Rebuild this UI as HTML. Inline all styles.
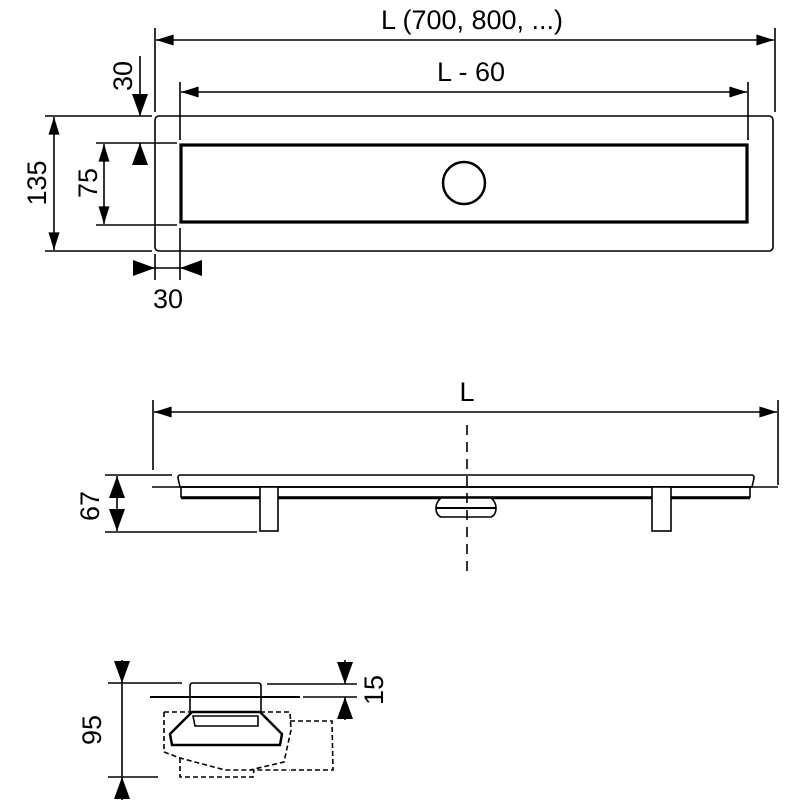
<!DOCTYPE html>
<html><head><meta charset="utf-8"><style>
html,body{margin:0;padding:0;background:#fff;width:800px;height:800px;overflow:hidden}
svg{display:block}
text{font-family:"Liberation Sans",sans-serif;font-size:27px;fill:#000}
</style></head><body>
<svg width="800" height="800" viewBox="0 0 800 800" xmlns="http://www.w3.org/2000/svg">
<defs>
<marker id="a" viewBox="0 0 16 10" refX="16" refY="5" markerWidth="18" markerHeight="11" markerUnits="userSpaceOnUse" orient="auto-start-reverse"><path d="M0,0 L16,5 L0,10 z" fill="#000"/></marker>
<marker id="b" viewBox="0 0 22 16" refX="22" refY="8" markerWidth="22" markerHeight="16" markerUnits="userSpaceOnUse" orient="auto-start-reverse"><path d="M0,0 L22,8 L0,16 z" fill="#000"/></marker>
</defs>
<g stroke="#000" stroke-width="1.6" fill="none">
<!-- top view -->
<line x1="155" y1="28" x2="155" y2="112"/>
<line x1="775" y1="28" x2="775" y2="112"/>
<line x1="180" y1="82" x2="180" y2="140"/>
<line x1="748" y1="82" x2="748" y2="140"/>
<line x1="156" y1="40" x2="774" y2="40" marker-start="url(#a)" marker-end="url(#a)"/>
<line x1="181" y1="92" x2="747" y2="92" marker-start="url(#a)" marker-end="url(#a)"/>
<rect x="155" y="116" width="618" height="135" rx="4"/>
<rect x="181" y="145" width="566" height="77" stroke-width="3.2"/>
<circle cx="464" cy="183" r="21" stroke-width="2.5"/>
<line x1="45" y1="116" x2="152" y2="116"/>
<line x1="45" y1="251" x2="152" y2="251"/>
<line x1="96" y1="143" x2="177" y2="143"/>
<line x1="96" y1="225" x2="177" y2="225"/>
<line x1="54" y1="117" x2="54" y2="250" marker-start="url(#a)" marker-end="url(#a)"/>
<line x1="104" y1="144" x2="104" y2="224" marker-start="url(#a)" marker-end="url(#a)"/>
<line x1="140" y1="56" x2="140" y2="116" marker-end="url(#b)"/>
<line x1="140" y1="164" x2="140" y2="143" marker-end="url(#b)"/>
<line x1="155" y1="254" x2="155" y2="280"/>
<line x1="180" y1="228" x2="180" y2="280"/>
<line x1="134" y1="268" x2="155" y2="268" marker-end="url(#b)"/>
<line x1="200" y1="268" x2="180" y2="268" marker-end="url(#b)"/>
<line x1="155" y1="268" x2="180" y2="268"/>
<!-- side view -->
<line x1="153" y1="400" x2="153" y2="470"/>
<line x1="778" y1="400" x2="778" y2="485"/>
<line x1="154" y1="412" x2="777" y2="412" marker-start="url(#a)" marker-end="url(#a)"/>
<path d="M180,475 L752,475 Q754,475 754,478 L752,487 L180,487 L178,478 Q178,475 180,475 z"/>
<line x1="152" y1="487" x2="778" y2="487"/>
<rect x="181" y="487" width="569" height="10"/>
<line x1="181" y1="498" x2="750" y2="498" stroke-width="2.5"/>
<rect x="260" y="487" width="18" height="44" fill="#fff"/>
<rect x="652" y="487" width="19" height="44" fill="#fff"/>
<path d="M441,498 L491,498 Q496,502 496,508 Q496,515 491,517 L441,517 Q436,515 436,508 Q436,502 441,498 z" fill="#fff"/>
<line x1="436" y1="508" x2="496" y2="508" stroke-width="2"/>
<line x1="467" y1="425" x2="467" y2="572" stroke-dasharray="10,7"/>
<line x1="105" y1="475" x2="172" y2="475"/>
<line x1="105" y1="532" x2="257" y2="532"/>
<line x1="117" y1="476" x2="117" y2="531" marker-start="url(#b)" marker-end="url(#b)"/>
<!-- section view -->
<line x1="108" y1="683" x2="182" y2="683"/>
<line x1="108" y1="777" x2="158" y2="777"/>
<line x1="122" y1="660" x2="122" y2="683" marker-end="url(#b)"/>
<line x1="122" y1="800" x2="122" y2="777" marker-end="url(#b)"/>
<line x1="122" y1="683" x2="122" y2="777"/>
<line x1="267" y1="684" x2="357" y2="684"/>
<line x1="150" y1="697" x2="300" y2="697" stroke-width="2"/>
<line x1="303" y1="697" x2="357" y2="697"/>
<line x1="345" y1="660" x2="345" y2="684" marker-end="url(#b)"/>
<line x1="345" y1="720" x2="345" y2="697" marker-end="url(#b)"/>
<path d="M190,697 L190,686 Q190,683 193,683 L258,683 Q261,683 261,686 L261,697"/>
<rect x="190" y="697" width="71" height="15"/>
<path d="M192,712 L170,734 L172,745 L280,745 L282,734 L260,712 z" stroke-width="2.5"/>
<path d="M193,716 L258,716 L258,726 L195,726 z"/>
<g stroke-dasharray="5,3">
<path d="M164,712 L290,712 L291,730 L284,762 L250,770"/>
<path d="M164,712 L164,752 L180,758 L225,770 L290,770"/>
<path d="M290,721 L332,721 L333,770 L290,770"/>
<path d="M180,758 L180,777 L253,777 L254,770"/>
</g>
</g>
<text x="472" y="29" text-anchor="middle">L (700, 800, ...)</text>
<text x="471" y="81" text-anchor="middle">L - 60</text>
<text x="467" y="401" text-anchor="middle">L</text>
<text x="168" y="308" text-anchor="middle">30</text>
<text transform="translate(46,183) rotate(-90)" text-anchor="middle">135</text>
<text transform="translate(97,183) rotate(-90)" text-anchor="middle">75</text>
<text transform="translate(132,76) rotate(-90)" text-anchor="middle">30</text>
<text transform="translate(99,506) rotate(-90)" text-anchor="middle">67</text>
<text transform="translate(101,730) rotate(-90)" text-anchor="middle">95</text>
<text transform="translate(383,690) rotate(-90)" text-anchor="middle">15</text>
</svg>
</body></html>
